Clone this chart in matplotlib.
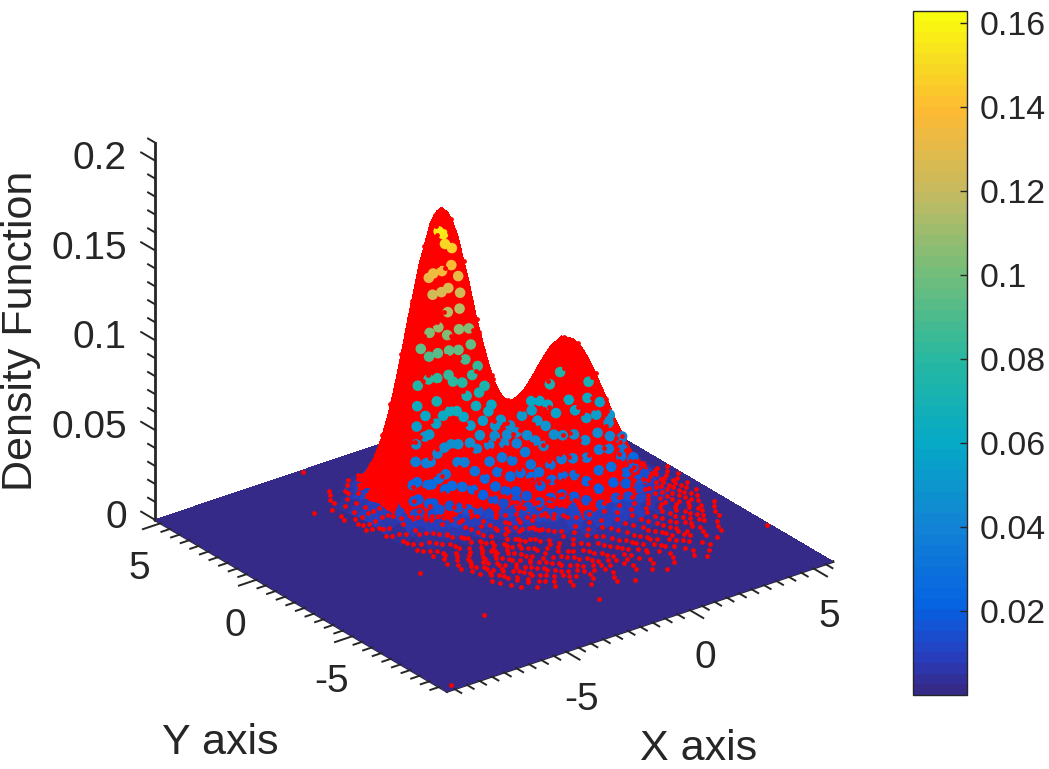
import numpy as np
import matplotlib
matplotlib.use("Agg")
import matplotlib.pyplot as plt
from matplotlib.colors import LinearSegmentedColormap, Normalize
from matplotlib.cm import ScalarMappable
from mpl_toolkits.mplot3d import Axes3D  # noqa

plt.rcParams['font.family'] = ['Liberation Sans', 'DejaVu Sans']
INK = '#262626'

# --- data -----------------------------------------------------------------
X_LIM = (-9.8, 5.8)
Y_LIM = (-9.9, 5.3)
Z_LIM = (0.0, 0.21)
C_LIM = (0.0, 0.163)
X_TICKS = [-5, 0, 5]
Y_TICKS = [-5, 0, 5]
Z_TICKS = [0, 0.05, 0.1, 0.15, 0.2]
Z_TICK_LABELS = ['0', '0.05', '0.1', '0.15', '0.2']
CB_TICKS = [0.02, 0.04, 0.06, 0.08, 0.1, 0.12, 0.14, 0.16]
CB_TICK_LABELS = ['0.02', '0.04', '0.06', '0.08', '0.1', '0.12', '0.14', '0.16']

X_NODES = [-5.8, -5.3, -4.8, -4.3, -4.05, -3.8, -3.55, -3.3, -3.05, -2.8, -2.55, -2.3, -2.05, -1.8,
           -1.55, -1.3, -1.05, -0.8, -0.55, -0.3, -0.05, 0.2, 0.45, 0.7, 0.95, 1.2, 1.45, 1.7, 1.95,
           2.2, 2.45, 2.7, 2.95, 3.2, 3.45, 3.7, 4.2, 4.7, 5.2, 5.7]
Y_NODES = [4.2, 3.7, 3.2, 2.7, 2.45, 2.2, 1.95, 1.7, 1.45, 1.2, 0.95, 0.7, 0.45, 0.2, -0.05, -0.3,
           -0.55, -0.8, -1.05, -1.3, -1.55, -1.8, -2.05, -2.3, -2.55, -2.8, -3.05, -3.3, -3.8, -4.3,
           -4.8, -5.3, -5.8]
# estimated density, in thousandths, one row per Y node
Z_MILLI = [
 [0,0,0,0,0,0,0,0,1,1,1,1,1,1,1,1,1,1,1,0,0,0,0,0,0,0,0,0,0,0,0,0,0,0,0,0,0,0,0,0],
 [0,0,0,0,0,1,1,2,2,3,3,4,4,4,4,4,3,3,2,2,1,1,0,0,0,0,0,0,0,0,0,0,0,0,0,0,0,0,0,0],
 [0,0,0,1,2,2,4,5,7,8,10,11,12,13,12,11,10,8,7,5,4,3,2,1,1,1,0,0,0,0,0,0,0,0,0,0,0,0,0,0],
 [0,0,1,2,4,6,9,13,17,21,25,29,31,32,31,29,25,21,17,13,9,7,4,3,2,1,1,1,1,1,1,1,0,0,0,0,0,0,0,0],
 [0,0,1,4,6,9,13,18,24,31,37,42,45,47,45,42,37,31,25,19,14,10,7,5,3,2,2,2,2,1,1,1,1,1,1,0,0,0,0,0],
 [0,0,2,5,8,13,18,26,34,43,52,59,64,65,64,59,52,44,35,27,19,14,10,7,5,4,3,3,3,2,2,2,2,1,1,1,0,0,0,0],
 [0,1,2,7,11,17,24,34,45,57,69,78,84,87,84,78,69,58,46,35,26,19,13,10,7,6,5,4,4,4,3,3,2,2,2,1,1,0,0,0],
 [0,1,3,8,14,21,31,43,57,72,86,98,106,109,106,99,87,73,58,45,33,24,17,13,10,8,8,7,6,6,5,5,4,3,3,2,1,0,0,0],
 [0,1,3,10,16,25,37,52,69,87,104,118,128,131,128,119,105,88,71,55,41,30,22,17,14,12,11,10,10,9,8,7,6,5,4,3,2,1,0,0],
 [0,1,4,11,18,29,42,59,78,98,118,134,145,149,146,135,120,101,81,63,48,36,27,22,19,17,16,15,14,13,12,10,9,7,6,4,2,1,0,0],
 [0,1,4,12,20,31,45,64,84,106,128,145,157,162,158,147,130,109,89,70,53,41,33,27,24,23,22,21,20,19,17,15,13,10,8,6,3,1,1,0],
 [0,1,4,13,20,32,47,65,86,109,131,149,161,166,162,151,134,113,92,73,58,46,37,33,31,30,29,29,28,26,23,20,17,14,11,8,4,2,1,0],
 [0,1,4,12,20,31,45,64,84,106,128,145,158,162,159,148,132,112,92,75,60,50,43,39,38,38,38,37,36,34,31,27,23,19,15,11,6,3,1,0],
 [0,1,4,11,18,29,42,59,78,98,118,134,146,150,147,137,123,105,88,73,61,53,48,46,46,47,47,47,46,43,39,34,29,24,19,14,7,3,1,0],
 [0,1,3,10,16,25,37,52,69,87,104,119,129,133,130,122,110,96,82,69,60,54,52,52,54,56,57,58,56,53,48,42,36,29,23,17,9,4,2,0],
 [0,1,3,8,14,21,31,43,57,72,86,99,107,111,109,103,93,83,72,64,58,55,56,58,62,65,67,68,66,62,57,50,42,34,27,21,11,5,2,1],
 [0,1,2,7,11,17,24,34,45,57,69,79,85,89,88,83,77,69,62,57,55,56,59,63,68,73,76,77,75,71,65,57,48,39,31,23,12,5,2,1],
 [0,0,2,5,8,13,18,26,34,43,52,60,65,67,68,65,61,56,53,52,52,55,61,67,74,79,83,84,82,78,71,62,53,43,34,26,13,6,2,1],
 [0,0,1,4,6,9,13,18,24,31,37,43,46,49,49,48,46,45,44,45,49,54,61,69,77,83,87,89,87,82,75,66,56,45,36,27,14,6,2,1],
 [0,0,1,2,4,6,9,13,17,21,25,30,32,34,35,35,35,35,37,40,45,52,61,69,78,84,89,90,88,84,76,67,57,46,36,28,14,6,2,1],
 [0,0,0,2,3,4,6,8,11,14,16,19,21,23,24,25,26,27,31,35,41,49,58,67,76,82,87,88,87,82,75,66,56,45,36,27,14,6,2,1],
 [0,0,0,1,2,2,4,5,7,8,10,12,13,15,16,17,19,21,25,31,37,45,54,63,71,78,82,84,82,78,71,62,53,43,34,26,13,6,2,1],
 [0,0,0,1,1,1,2,3,4,5,6,7,8,9,10,12,14,17,21,26,33,41,49,57,65,71,75,76,75,71,65,57,48,39,31,23,12,5,2,1],
 [0,0,0,0,0,1,1,2,2,3,3,5,5,6,7,8,10,13,17,22,28,35,43,50,57,62,66,67,66,62,57,50,42,34,27,21,11,5,2,1],
 [0,0,0,0,0,0,1,1,1,1,2,2,3,4,5,6,8,10,14,18,24,29,36,42,48,53,56,57,56,53,48,42,36,29,23,17,9,4,2,0],
 [0,0,0,0,0,0,0,0,1,1,1,1,2,2,3,4,6,8,11,15,19,24,29,34,39,43,45,46,45,43,39,34,29,24,19,14,7,3,1,0],
 [0,0,0,0,0,0,0,0,0,0,1,1,1,1,2,3,4,6,8,11,15,19,23,27,31,34,36,36,36,34,31,27,23,19,15,11,6,3,1,0],
 [0,0,0,0,0,0,0,0,0,0,0,0,1,1,1,2,3,4,6,8,11,14,17,20,23,26,27,28,27,26,23,20,17,14,11,8,4,2,1,0],
 [0,0,0,0,0,0,0,0,0,0,0,0,0,0,1,1,2,2,3,4,6,7,9,10,12,13,14,14,14,13,12,10,9,7,6,4,2,1,0,0],
 [0,0,0,0,0,0,0,0,0,0,0,0,0,0,0,0,1,1,1,2,3,3,4,5,5,6,6,6,6,6,5,5,4,3,3,2,1,0,0,0],
 [0,0,0,0,0,0,0,0,0,0,0,0,0,0,0,0,0,0,1,1,1,1,2,2,2,2,2,2,2,2,2,2,2,1,1,1,0,0,0,0],
 [0,0,0,0,0,0,0,0,0,0,0,0,0,0,0,0,0,0,0,0,0,0,0,1,1,1,1,1,1,1,1,1,0,0,0,0,0,0,0,0],
 [0,0,0,0,0,0,0,0,0,0,0,0,0,0,0,0,0,0,0,0,0,0,0,0,0,0,0,0,0,0,0,0,0,0,0,0,0,0,0,0],
]
# sample points: one Y value with the X values found along it
DOT_Y = [3.6, 3.3, 3.0, 2.7, 2.4, 2.1, 1.8, 1.5, 1.2, 0.9, 0.6, 0.3, 0.0, -0.3, -0.6, -0.9, -1.2,
         -1.5, -1.8, -2.1, -2.4, -2.7, -3.0, -3.3, -3.6, -3.9, -4.2, -4.5, -4.8, -5.1, -5.4,
         -5.7, -6.0, -6.3, -6.6, -6.9, -7.2, -7.6, -9.6, 5.2,
         1.05, 0.75, 0.45, 0.15, -0.15, -0.45, -0.75, -1.05, -1.35, -1.65, -1.95, -2.25, -2.55, -2.85,
         -3.15, -3.45, -3.75, -4.05, -4.35, -4.65, -4.95, -5.25, -5.55, -5.85,
         0.3, 0.1, -0.1, -0.32, -0.5, -0.7, -0.9, -1.1, -1.38, -1.67, -2.02, -2.32, -2.52, -2.72, -2.92, -3.12]
DOT_X = [
 [-4.1,-3.3,-2.9],
 [-4.3,-3.6,-3.0,-2.6],
 [-4.5,-3.9,-3.4,-2.9],
 [-5.4,-4.6,-4.0,-3.5,-3.1],
 [-4.9,-4.3,-3.8,-3.3],
 [-4.6,-4.1,-3.6,-3.1,-2.7],
 [-5.0,-4.4,-3.9,-3.5,-3.0,-2.5],
 [-5.1,-4.7,-4.2,-3.7,-3.3,-2.8,-2.3],
 [-4.9,-4.5,-4.0,-3.6,-3.1,-2.6,-2.1,-1.6],
 [-5.0,-4.6,-4.2,-3.8,-3.4,-2.9,-2.4,-1.9,-1.3],
 [-4.8,-4.4,-3.9,-3.5,-3.0,-2.6,-2.1,-1.5,-0.9],
 [-4.9,-4.5,-4.1,-3.6,-3.2,-2.8,-2.3,-1.8,-1.2,-0.6],
 [-4.7,-4.3,-3.8,-3.4,-2.9,-2.5,-2.0,-1.4,-0.9,-0.3],
 [-4.8,-4.2,-3.7,-3.3,-2.7,-2.2,-1.7,-1.1,-0.5,0.1],
 [-4.5,-4.0,-3.5,-3.0,-2.5,-1.9,-1.4,-0.8,-0.2,0.4],
 [-4.6,-4.1,-3.7,-3.2,-2.7,-2.1,-1.6,-1.0,-0.4,0.2,0.9],
 [-4.4,-3.9,-3.4,-2.9,-2.4,-1.8,-1.3,-0.7,-0.1,0.5,1.1,1.7],
 [-4.5,-4.0,-3.6,-3.1,-2.6,-2.1,-1.5,-1.0,-0.4,0.2,0.8,1.4,2.0,4.7,5.2,5.6],
 [-4.2,-3.7,-3.3,-2.8,-2.3,-1.7,-1.2,-0.6,0.0,0.6,1.2,1.8,2.5,4.4,4.9,5.4],
 [-4.3,-3.9,-3.4,-2.9,-2.5,-2.0,-1.4,-0.9,-0.3,0.3,0.9,1.5,2.1,2.7,4.2,4.7,5.1,5.6],
 [-4.1,-3.6,-3.1,-2.6,-2.2,-1.6,-1.1,-0.5,0.1,0.7,1.3,1.9,2.5,3.1,3.8,4.3,4.8,5.3],
 [-5.3,-4.2,-3.8,-3.3,-2.8,-2.3,-1.8,-1.3,-0.7,-0.2,0.4,1.0,1.6,2.2,2.8,3.4,4.0,4.5,5.0,5.5],
 [-4.0,-3.5,-3.0,-2.5,-2.0,-1.5,-0.9,-0.4,0.2,0.8,1.3,1.9,2.5,3.1,3.7,4.2,4.7,5.2],
 [-4.1,-3.7,-3.2,-2.7,-2.2,-1.7,-1.1,-0.6,0.0,0.5,1.1,1.7,2.3,2.9,3.5,4.0,4.4,4.9,5.4],
 [-3.9,-3.4,-2.9,-2.4,-1.9,-1.4,-0.8,-0.3,0.3,0.9,1.5,2.0,2.6,3.2,3.7,4.2,4.7,5.2],
 [-3.8,-3.3,-2.8,-2.2,-1.7,-1.1,-0.6,0.0,0.6,1.2,1.8,2.4,3.0,3.5,4.1,4.6,5.0],
 [-3.6,-3.1,-2.6,-2.0,-1.5,-0.9,-0.3,0.3,0.9,1.5,2.1,2.7,3.3,3.9,4.4,4.9,5.4],
 [-3.8,-3.3,-2.7,-2.2,-1.6,-1.0,-0.5,0.1,0.7,1.3,1.9,2.5,3.1,3.6,4.2,4.7,5.2],
 [-3.7,-3.0,-2.5,-1.9,-1.3,-0.7,-0.1,0.5,1.1,1.7,2.3,2.9,3.4,4.0,4.5,5.0],
 [-3.5,-2.8,-2.3,-1.7,-1.1,-0.4,0.2,0.8,1.4,2.0,2.6,3.2,3.8,4.3,4.9],
 [-3.3,-2.6,-2.0,-1.4,-0.8,-0.2,0.4,1.0,1.6,2.2,2.8,3.4,3.9,4.6],
 [-2.9,-2.2,-1.6,-1.0,-0.3,0.3,0.9,1.5,2.1,2.7,3.3,3.8,4.4],
 [-2.4,-1.8,-1.0,-0.4,0.4,1.0,1.8,2.4,3.0,3.7,4.3],
 [-5.5,-1.9,-1.1,-0.3,0.5,1.2,2.0,2.6,3.3,3.9],
 [-1.4,-0.5,0.4,1.1,1.9,2.7,3.4,5.7],
 [-0.6,0.8,1.7,2.5,3.1],
 [-0.1,1.2,2.8],
 [-1.85],
 [-9.4],
 [-3.9],
 [-4.75,-4.27,-3.83,-3.37],
 [-4.93,-4.51,-4.08,-3.66],
 [-5.03,-4.67,-4.23,-3.74],
 [-4.76,-4.38,-3.91,-3.47],
 [-4.58,-4.03,-3.62],
 [-4.68,-4.26,-3.79,-3.41],
 [-4.35,-3.88,-3.43,-2.97],
 [-4.53,-4.08,-3.54,-3.06],
 [-4.22,-3.73,-3.27,-2.83],
 [-4.37,-3.84,-3.41,-2.92,-2.47],
 [-4.03,-3.52,-3.07,-2.64,-2.18],
 [-3.93,-3.36,-2.87,-2.41,-1.92,-1.53,-1.08],
 [-3.67,-3.18,-2.71,-2.26,-1.76,-1.33,-0.87,-0.43,4.57,5.03],
 [-3.49,-2.93,-2.48,-2.02,-1.59,-1.03,-0.52,-0.07,0.36,4.12,4.63,5.13],
 [-3.58,-3.04,-2.61,-2.14,-1.66,-1.22,-0.73,-0.27,0.18,0.67,3.87,4.32,4.83],
 [-3.63,-3.14,-2.56,-2.07,-1.53,-1.02,-0.48,0.07,0.58,1.07,1.52,2.14,2.68,3.23,3.62,4.11,4.57,5.07],
 [-3.42,-2.91,-2.38,-1.84,-1.37,-0.86,-0.33,0.14,0.72,1.32,1.93,2.47,3.08,3.78,4.34,4.83],
 [-3.52,-3.03,-2.46,-1.91,-1.28,-0.77,-0.18,0.43,0.97,1.63,2.16,2.77,3.36,3.96,4.52],
 [-3.38,-2.84,-2.33,-1.77,-1.21,-0.62,-0.07,0.52,1.13,1.72,2.34,2.93,3.52,4.13,4.67],
 [-3.26,-2.63,-2.07,-1.47,-0.86,-0.23,0.37,0.94,1.56,2.18,2.76,3.27,3.83,4.38],
 [-3.12,-2.52,-1.93,-1.33,-0.64,-0.03,0.63,1.27,1.83,2.44,3.07,3.68,4.21],
 [-2.93,-2.17,-1.58,-0.93,-0.31,0.27,0.87,1.43,2.03,2.67,3.13,3.72],
 [-2.47,-1.73,-1.17,-0.53,0.08,0.73,1.31,1.96,2.53,3.17],
 [-1.43,-0.73,-0.08,0.62,1.41,2.17,2.87],
 [-2.7,-2.3],
 [-3.0,-2.6,-2.1],
 [-3.3,-2.8,-2.3,-1.7],
 [-3.5,-3.0,-2.4,-1.8,-1.3],
 [-3.6,-3.2,-2.6,-2.0,-1.4],
 [-3.8,-3.2,-2.6,-2.0,-1.5,-1.0],
 [-3.5,-3.0,-2.6,-2.1,-1.5,-0.9,-0.5],
 [-3.6,-3.1,-2.5,-2.0,-1.4,-0.9,-0.3],
 [-3.4,-2.9,-2.2,-1.7,-1.1,-0.5,0.1],
 [-3.4,-2.8,-2.2,-1.6,-1.0,-0.5,0.0,0.5],
 [-3.0,-2.3,-1.7,-1.0,-0.4,0.2,0.8],
 [-2.6,-1.9,-1.4,-0.8,-0.2,0.2,0.8,1.4,2.1],
 [-2.5,-1.6,-1.1,-0.5,0.0,0.5,0.9,1.4,1.9,2.3,2.8],
 [-2.8,-1.8,-1.2,-0.8,-0.2,0.2,0.7,1.1,1.6,2.1,2.6,3.0],
 [-2.6,-2.0,-1.5,-0.9,-0.4,0.1,0.5,1.0,1.5,2.0,2.5,3.0],
 [-2.5,-1.9,-1.4,-0.8,-0.2,0.3,0.8,1.3,1.9,2.4,2.9,3.4],
]
# gaps between the points, where the surface shows through
GAP_Y = [0.45, 0.35, 0.25, 0.15, 0.05, -0.05, -0.15, -0.25, -0.35, -0.45, -0.55, -0.65, -0.75, -0.85,
         -0.95, -1.05, -1.15, -1.3, -1.45, -1.6, -1.75, -1.9, -2.05, -2.2, -2.4, -2.6, -2.8, -3.0,
         -3.25, -3.5, -3.75, -4.0, -4.3, -4.6]
GAP_X = [
 [-2.5,-2.1],
 [-2.9,-2.4,-2.0],
 [-3.1,-2.5,-2.0],
 [-3.2,-2.7,-2.2,-1.8],
 [-3.3,-2.8,-2.3,-1.9],
 [-3.4,-2.9,-2.5,-2.1,-1.7],
 [-3.5,-3.1,-2.6,-2.2,-1.7],
 [-3.7,-3.2,-2.7,-2.3,-1.8],
 [-3.6,-3.1,-2.8,-2.3,-1.9,-1.5],
 [-3.8,-3.3,-2.9,-2.4,-2.0,-1.5],
 [-3.7,-3.2,-2.7,-2.3,-1.8,-1.3],
 [-3.9,-3.4,-3.0,-2.5,-2.0,-1.6,-1.1],
 [-3.8,-3.3,-2.8,-2.3,-1.9,-1.4,-0.9],
 [-4.0,-3.5,-3.1,-2.6,-2.1,-1.6,-1.1,-0.6],
 [-3.9,-3.4,-2.9,-2.4,-1.9,-1.4,-0.9,-0.3],
 [-4.0,-3.5,-3.0,-2.5,-2.0,-1.6,-1.0,-0.5,0.1],
 [-3.8,-3.3,-2.8,-2.3,-1.8,-1.3,-0.7,-0.2,0.4],
 [-4.0,-3.5,-3.0,-2.5,-2.0,-1.4,-0.9,-0.3,0.3],
 [-3.8,-3.3,-2.8,-2.2,-1.7,-1.2,-0.6,0.0,0.5],
 [-4.0,-3.5,-3.0,-2.5,-1.9,-1.4,-0.8,-0.2,0.3,0.8],
 [-3.7,-3.2,-2.7,-2.2,-1.6,-1.1,-0.5,0.1,0.6,1.1],
 [-3.5,-3.0,-2.4,-1.9,-1.3,-0.8,-0.2,0.4],
 [-3.6,-3.1,-2.5,-2.0,-1.4,-0.9,-0.3,0.2,0.7],
 [-3.4,-2.9,-2.3,-1.7,-1.2,-0.6,-0.1,0.5,1.1,1.9],
 [-3.7,-3.2,-2.7,-2.2,-1.7,-1.2,-0.7,-0.2,0.2,0.7,1.2,1.7,2.2,2.6,3.1],
 [-3.4,-2.9,-2.4,-1.9,-1.4,-0.9,-0.4,0.1,0.5,1.0,1.5,1.9,2.4,2.9,3.4],
 [-3.6,-3.1,-2.6,-2.1,-1.6,-1.1,-0.6,-0.1,0.4,0.8,1.3,1.8,2.3,2.8,3.2,3.7],
 [-3.3,-2.8,-2.3,-1.8,-1.3,-0.8,-0.3,0.2,0.7,1.2,1.7,2.1,2.6,3.1,3.6],
 [-3.2,-2.7,-2.1,-1.6,-1.1,-0.5,0.0,0.5,1.0,1.5,2.0,2.6,3.1,3.6,4.1],
 [-3.0,-2.4,-1.9,-1.3,-0.8,-0.3,0.3,0.8,1.3,1.9,2.4,2.9,3.4,3.9],
 [-2.7,-2.1,-1.5,-1.0,-0.4,0.2,0.7,1.2,1.8,2.3,2.8,3.3,3.9,4.4],
 [-2.4,-1.8,-1.2,-0.6,0.0,0.5,1.1,1.7,2.3,2.8,3.4,4.0],
 [-1.9,-1.2,-0.5,0.1,0.8,1.4,2.1,2.8,3.5],
 [-0.9,-0.2,0.5,1.2,2.0,2.7],
]
PARULA_AT = [0.0, 0.008, 0.02, 0.04, 0.06, 0.08, 0.10, 0.12, 0.14, 0.15, 0.163]
PARULA_RGB = [(53,42,135), (40,62,190), (6,98,226), (18,132,212), (6,170,198), (40,184,160),
              (112,190,124), (196,186,98), (254,186,52), (248,214,36), (249,251,14)]
COVER_ABOVE = 0.012
# --------------------------------------------------------------------------

cmap = LinearSegmentedColormap.from_list(
    'parula_like',
    [(v / C_LIM[1], tuple(c / 255 for c in rgb)) for v, rgb in zip(PARULA_AT, PARULA_RGB)], N=64)
norm = Normalize(*C_LIM)

xn = np.array([X_LIM[0]] + X_NODES + [X_LIM[1]])
yn = np.array([Y_LIM[1]] + Y_NODES + [Y_LIM[0]])
Z = np.pad(np.array(Z_MILLI, float) * 0.001, 1)
XX, YY = np.meshgrid(xn, yn)


def height_at(x, y):
    col = np.array([np.interp(x, xn, Z[r]) for r in range(len(yn))])
    return np.interp(y, yn[::-1], col[::-1])


def flatten(ys, rows):
    px = np.concatenate([np.array(r, float) for r in rows])
    py = np.concatenate([np.full(len(r), v) for r, v in zip(rows, ys)])
    pz = np.array([height_at(a, b) for a, b in zip(px, py)])
    return px, py, pz


cells = 0.25 * (Z[:-1, :-1] + Z[1:, :-1] + Z[:-1, 1:] + Z[1:, 1:])
faces = cmap(norm(cells))
faces[cells > COVER_ABOVE] = (1, 0, 0, 1)

fig = plt.figure(figsize=(10.49, 7.69), dpi=100)
ax = fig.add_axes([-0.009, 0.0286, 0.94, 1.0], projection='3d', proj_type='ortho', computed_zorder=False)
ax.set_xlim(*X_LIM, view_margin=0); ax.set_ylim(*Y_LIM, view_margin=0); ax.set_zlim(*Z_LIM, view_margin=0)
ax.set_box_aspect((1, 1, 0.87), zoom=1.0145)
ax.view_init(elev=26.4, azim=-127.1)
ax.patch.set_alpha(0)
ax.grid(False)
for a in (ax.xaxis, ax.yaxis, ax.zaxis):
    a.pane.set_visible(False)
    a.line.set_color(INK); a.line.set_linewidth(2.0)
    a._axinfo['tick']['inward_factor'] = 0
    a._axinfo['tick']['outward_factor'] = 0

ax.plot_surface(XX, YY, Z, facecolors=faces, rstride=1, cstride=1, shade=False,
                linewidth=0, edgecolor='none', antialiased=False, zorder=1)

gx, gy, gz = flatten(GAP_Y, GAP_X)
ax.scatter(gx, gy, gz, s=58, c=gz, cmap=cmap, norm=norm, marker='o', linewidths=0,
           depthshade=False, zorder=1.5)
dx, dy, dz = flatten(DOT_Y, DOT_X)
ax.scatter(dx, dy, dz, s=12, c='#ff0000', marker='o', linewidths=0, depthshade=False, zorder=2)

ax.set_xticks(X_TICKS); ax.set_yticks(Y_TICKS); ax.set_zticks(Z_TICKS)
ax.set_xticklabels([str(v) for v in X_TICKS]); ax.set_yticklabels([str(v) for v in Y_TICKS])
ax.set_zticklabels(Z_TICK_LABELS, ha='right', va='center')
ax.tick_params(axis='x', labelsize=28, labelcolor=INK, pad=8)
ax.tick_params(axis='y', labelsize=28, labelcolor=INK, pad=8)
ax.tick_params(axis='z', labelsize=28, labelcolor=INK, pad=4)

# tick marks, through the data scales
xmin, xmax, ymin, ymax = X_LIM[0], X_LIM[1], Y_LIM[0], Y_LIM[1]
for v in np.arange(-9.5, 5.6, 0.5):
    L = 0.72 if v in X_TICKS else 0.36
    ax.plot([v, v], [ymin, ymin - L], [0, 0], color=INK, lw=1.4, zorder=3)
for v in np.arange(-9.5, 5.1, 0.5):
    L = 0.72 if v in Y_TICKS else 0.36
    ax.plot([xmin, xmin - L], [v, v], [0, 0], color=INK, lw=1.4, zorder=3)
for v in np.arange(0, 0.2101, 0.01):
    L = 0.72 if round(v, 2) in Z_TICKS else 0.36
    ax.plot([xmin, xmin], [ymax, ymax + L], [v, v], color=INK, lw=1.4, zorder=3)

fig.text(220 / 1049, 1 - 743 / 769, 'Y axis', fontsize=31, color=INK, ha='center', va='center')
fig.text(699 / 1049, 1 - 749 / 769, 'X axis', fontsize=31, color=INK, ha='center', va='center')
fig.text(21 / 1049, 1 - 331 / 769, 'Density Function', fontsize=31, color=INK, rotation=90,
         ha='center', va='center')

cax = fig.add_axes([913 / 1049, 1 - 695 / 769, 54 / 1049, 684.5 / 769])
cb = fig.colorbar(ScalarMappable(norm=norm, cmap=cmap), cax=cax)
cb.set_ticks(CB_TICKS, labels=CB_TICK_LABELS)
cb.ax.tick_params(direction='in', length=5, width=1, labelsize=24.4, labelcolor=INK, color=INK, pad=9)
cb.outline.set_edgecolor(INK); cb.outline.set_linewidth(1)

fig.savefig('out.png', dpi=100)
